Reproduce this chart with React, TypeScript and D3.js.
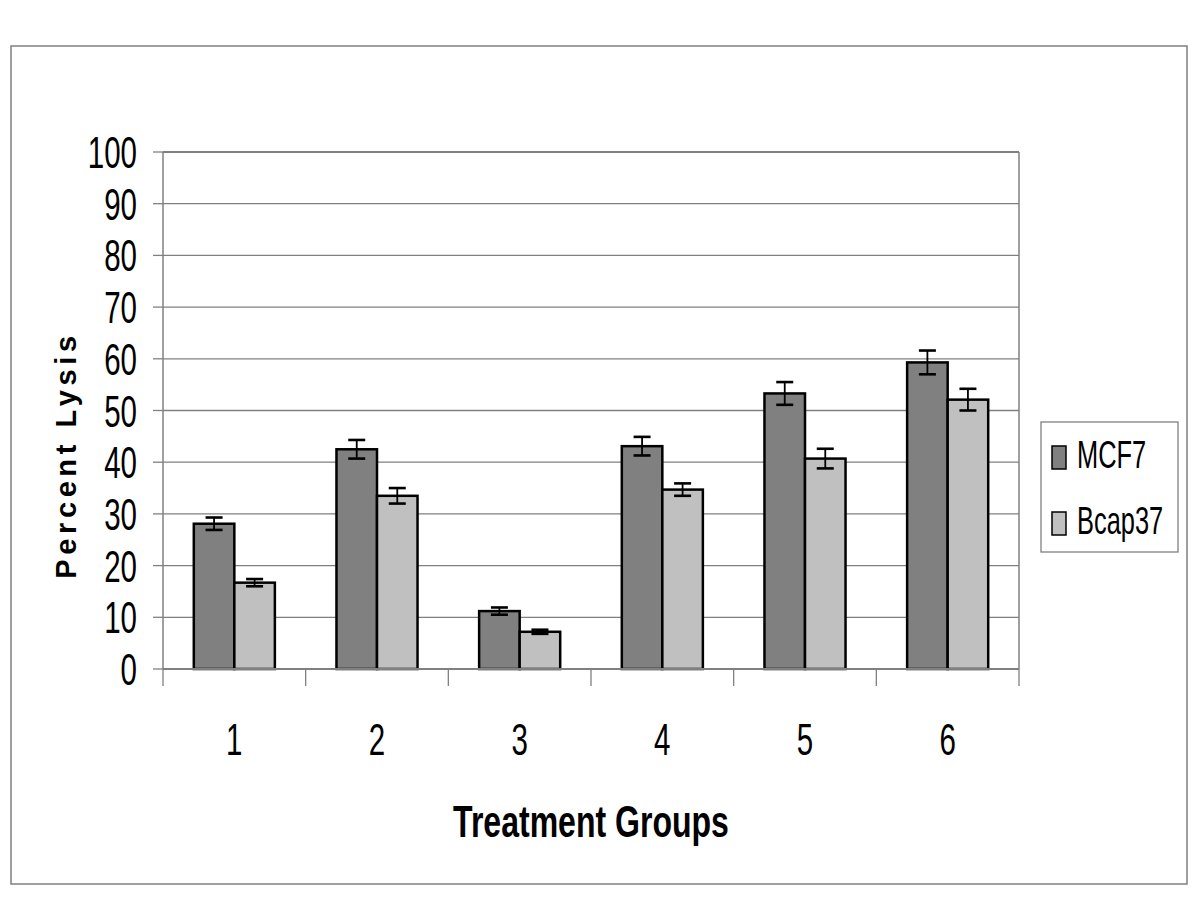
import React, { useEffect, useRef } from 'react';
import * as d3 from 'd3';

// Chart data
const groups = ['1', '2', '3', '4', '5', '6'];
const seriesNames = ['MCF7', 'Bcap37'];
const mcf7Values = [28.1, 42.5, 11.2, 43.1, 53.3, 59.3];
const mcf7Errors = [1.2, 1.8, 0.7, 1.8, 2.2, 2.3];
const bcapValues = [16.7, 33.5, 7.2, 34.7, 40.7, 52.1];
const bcapErrors = [0.7, 1.5, 0.4, 1.2, 1.9, 2.1];
const yTicks = [0, 10, 20, 30, 40, 50, 60, 70, 80, 90, 100];

const COLORS = { MCF7: '#808080', Bcap37: '#c0c0c0' };
const GRAY = '#808080';
const FONT = '"Liberation Sans", Arial, sans-serif';
// the original text looks like a narrow face stretched vertically
const SX = 0.82;
const SY = 1.23;

const App = () => {
  const ref = useRef<SVGSVGElement>(null);

  useEffect(() => {
    const svg = d3.select(ref.current);
    svg.selectAll('*').remove();

    const left = 163, right = 1019, top = 152, bottom = 669;

    const rows = groups.map((g, i) => ({
      group: g,
      values: [
        { name: 'MCF7', value: mcf7Values[i], err: mcf7Errors[i] },
        { name: 'Bcap37', value: bcapValues[i], err: bcapErrors[i] }
      ]
    }));

    const x0 = d3.scaleBand().domain(groups).range([left, right]).padding(0);
    const x1 = d3.scaleBand().domain(seriesNames).range([0, x0.bandwidth()]).paddingInner(0).paddingOuter(0.76);
    const y = d3.scaleLinear().domain([0, 100]).range([bottom, top]);

    // outer frame
    svg.append('rect')
      .attr('x', 11).attr('y', 46).attr('width', 1176).attr('height', 838)
      .attr('fill', 'white').attr('stroke', GRAY).attr('stroke-width', 1.5);

    // gridlines
    svg.append('g').selectAll('line')
      .data(yTicks.filter(d => d > 0))
      .enter().append('line')
      .attr('x1', left).attr('x2', right)
      .attr('y1', d => y(d)).attr('y2', d => y(d))
      .attr('stroke', GRAY).attr('stroke-width', d => d === 100 ? 2 : 1.3);

    // right border of plot
    svg.append('line')
      .attr('x1', right).attr('x2', right).attr('y1', top).attr('y2', bottom)
      .attr('stroke', GRAY).attr('stroke-width', 1.5);

    // y axis
    const yAxis = svg.append('g');
    yAxis.append('line')
      .attr('x1', left).attr('x2', left).attr('y1', top).attr('y2', bottom)
      .attr('stroke', GRAY).attr('stroke-width', 1.5);
    yAxis.selectAll('.tick')
      .data(yTicks)
      .enter().append('line')
      .attr('x1', 153).attr('x2', left)
      .attr('y1', d => y(d)).attr('y2', d => y(d))
      .attr('stroke', GRAY).attr('stroke-width', 1.3);
    yAxis.selectAll('.lbl')
      .data(yTicks)
      .enter().append('g')
      .attr('transform', d => `translate(137,${y(d) + 16}) scale(${SX},${SY})`)
      .append('text')
      .attr('text-anchor', 'end')
      .style('font-family', FONT)
      .style('font-size', '36px')
      .attr('fill', 'black')
      .text(d => d);

    // bars
    const groupSel = svg.append('g').selectAll('g')
      .data(rows)
      .enter().append('g')
      .attr('transform', d => `translate(${x0(d.group)},0)`);

    groupSel.selectAll('rect')
      .data(d => d.values)
      .enter().append('rect')
      .attr('x', d => x1(d.name)!)
      .attr('width', x1.bandwidth())
      .attr('y', d => y(d.value))
      .attr('height', d => y(0) - y(d.value))
      .attr('fill', d => COLORS[d.name as keyof typeof COLORS])
      .attr('stroke', 'black')
      .attr('stroke-width', 2.5);

    // error bars
    const capHalf = 8.5;
    const errSel = groupSel.selectAll('.err')
      .data(d => d.values)
      .enter().append('g')
      .attr('stroke', 'black')
      .attr('stroke-width', 2.6);
    const cx = (d: { name: string }) => x1(d.name)! + x1.bandwidth() / 2;
    errSel.append('line')
      .attr('x1', cx).attr('x2', cx)
      .attr('y1', d => y(d.value + d.err)).attr('y2', d => y(d.value - d.err))
      .attr('stroke-width', 1.8);
    errSel.append('line')
      .attr('x1', d => cx(d) - capHalf).attr('x2', d => cx(d) + capHalf)
      .attr('y1', d => y(d.value + d.err)).attr('y2', d => y(d.value + d.err));
    errSel.append('line')
      .attr('x1', d => cx(d) - capHalf).attr('x2', d => cx(d) + capHalf)
      .attr('y1', d => y(d.value - d.err)).attr('y2', d => y(d.value - d.err));

    // x axis
    const xAxis = svg.append('g');
    xAxis.append('line')
      .attr('x1', left).attr('x2', right).attr('y1', bottom).attr('y2', bottom)
      .attr('stroke', GRAY).attr('stroke-width', 2);
    const boundaries = groups.map(g => x0(g)!).concat([right]);
    xAxis.selectAll('.tick')
      .data(boundaries)
      .enter().append('line')
      .attr('x1', d => d).attr('x2', d => d)
      .attr('y1', bottom).attr('y2', 686)
      .attr('stroke', GRAY).attr('stroke-width', 1.3);
    xAxis.selectAll('.lbl')
      .data(groups)
      .enter().append('g')
      .attr('transform', d => `translate(${x0(d)! + x0.bandwidth() / 2},755) scale(${SX},${SY})`)
      .append('text')
      .attr('text-anchor', 'middle')
      .style('font-family', FONT)
      .style('font-size', '36px')
      .attr('fill', 'black')
      .text(d => d);

    // axis titles
    svg.append('g')
      .attr('transform', `translate(${(left + right) / 2},837) scale(0.89,${SY})`)
      .append('text')
      .attr('text-anchor', 'middle')
      .style('font-family', FONT)
      .style('font-size', '36px')
      .style('font-weight', '700')
      .attr('fill', 'black')
      .text('Treatment Groups');

    svg.append('text')
      .attr('transform', 'translate(76,455) rotate(-90)')
      .attr('text-anchor', 'middle')
      .style('font-family', FONT)
      .style('font-size', '29px')
      .style('font-weight', '700')
      .style('letter-spacing', '4.6px')
      .attr('fill', 'black')
      .text('Percent Lysis');

    // legend
    const legend = svg.append('g');
    legend.append('rect')
      .attr('x', 1041).attr('y', 422).attr('width', 137).attr('height', 130)
      .attr('fill', 'white').attr('stroke', GRAY).attr('stroke-width', 1.3);
    const items = legend.selectAll('.item')
      .data(seriesNames)
      .enter().append('g')
      .attr('transform', (d, i) => `translate(1052,${446 + i * 66})`);
    items.append('rect')
      .attr('width', 14).attr('height', 23)
      .attr('fill', d => COLORS[d as keyof typeof COLORS])
      .attr('stroke', 'black').attr('stroke-width', 1.5);
    items.append('g')
      .attr('transform', `translate(25,22) scale(${SX},${SY})`)
      .append('text')
      .style('font-family', FONT)
      .style('font-size', '31px')
      .attr('fill', 'black')
      .text(d => d);
  }, []);

  return (
    <svg ref={ref} width={1200} height={900}
      style={{ position: 'absolute', left: 0, top: 0, background: 'white' }} />
  );
};

export default App;
